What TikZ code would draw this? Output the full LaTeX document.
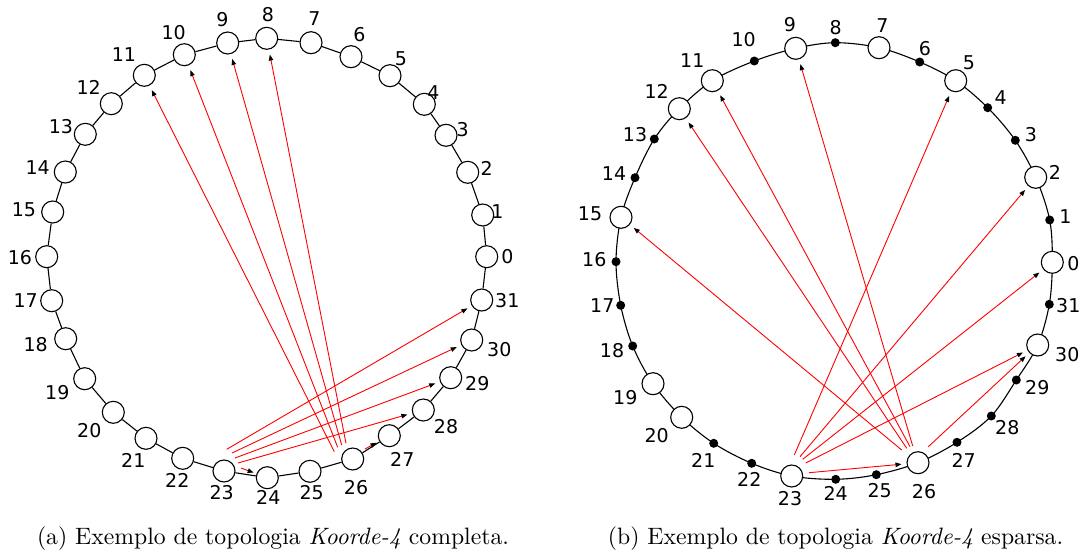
\documentclass[tikz,border=0pt]{standalone}
\usepackage{fontspec}
\newfontfamily\labelfont{DejaVu Sans}
\newfontfamily\capfont{lmroman10}[Extension=.otf,UprightFont=*-regular,ItalicFont=*-italic]
\usetikzlibrary{arrows.meta,calc,backgrounds}

\begin{document}
\begin{tikzpicture}[x=1pt,y=-1pt,
  peer/.style={circle,draw,fill=white,line width=1.1pt,minimum size=22pt,inner sep=0pt},
  ghost/.style={circle,fill=black,minimum size=9pt,inner sep=0pt},
  ring/.style={line width=1.1pt},
  idx/.style={font=\labelfont\fontsize{19}{19}\selectfont,inner sep=0pt},
  ptr/.style={draw=red,line width=0.9pt,
    -{Triangle[color=black,length=6pt,width=4.5pt]},shorten >=5pt},
  captxt/.style={font=\capfont\fontsize{23.7}{28}\selectfont,inner sep=0pt}]

\useasboundingbox (0,0) rectangle (1083,554);

% ---------- (a) complete Koorde-4 ring ----------
\foreach \k/\x/\y/\a/\b in {
  0/486.7/256.7/507.3/256.7, 1/482.7/215/497.3/212, 2/467.7/172.3/486.7/168.3,
  3/446/135.3/462.7/129.3, 4/424.3/104.3/433.3/92.7, 5/390/75.7/401/58.3,
  6/351/56.7/359.3/34.3, 7/311/42.7/314.3/19, 8/266.7/38.3/268/15,
  9/227.7/43/222.3/20, 10/184.3/54.7/173.7/32.3, 11/144.3/75.3/124/55,
  12/111.3/103.7/88.7/87.3, 13/85.3/134.3/61/126.7, 14/65.3/172/37.7/167.3,
  15/52.7/212/24/209.3, 16/46.7/256.7/20/257.3, 17/51.7/300.7/25.7/300.7,
  18/65.7/338.7/35.7/345, 19/84.7/378.7/57.3/392.7, 20/113.3/412.3/89.3/431,
  21/146/438.3/133.3/460.7, 22/182.7/458.3/177.3/480.7, 23/224/471/221.7/492.7,
  24/267.3/477.7/268.3/497.7, 25/310/471.3/311.7/492.7, 26/352.7/459/356/487.3,
  27/389.3/435.7/402.3/459, 28/423.3/410/446/426.7, 29/450.7/377.7/477.3/384,
  30/471.7/340/499.3/349.3, 31/481.7/300/507.3/301}
{
  \node[peer] (L\k) at (\x,\y) {};
  \node[idx] (LL\k) at (\a,\b) {\k};
}

\foreach \k in {0,...,31}{
  \pgfmathtruncatemacro\n{mod(\k+1,32)}
  \draw[ring] (L\k) -- (L\n);
}

% fan-out points next to nodes 23 and 26
\coordinate (a23x31) at ($(L23)+(2.7,-21.7)$);
\coordinate (a23x30) at ($(L23)+(8,-18)$);
\coordinate (a23x29) at ($(L23)+(11,-13)$);
\coordinate (a23x28) at ($(L23)+(14,-8)$);
\coordinate (a23x24) at ($(L23)+(17,-3)$);
\coordinate (a26x11) at ($(L26)+(-18.4,-7.3)$);
\coordinate (a26x10) at ($(L26)+(-15,-11.7)$);
\coordinate (a26x9)  at ($(L26)+(-11,-14)$);
\coordinate (a26x8)  at ($(L26)+(-6.7,-15.7)$);
\coordinate (a26x27) at ($(L26)+(12.3,-10)$);

\draw[ptr] (a23x31) -- (L31);
\draw[ptr] (a23x30) -- (L30);
\draw[ptr] (a23x29) -- (L29);
\draw[ptr] (a23x28) -- (L28);
\draw[ptr,shorten >=3pt] (a23x24) -- (L24);
\draw[ptr] (a26x11) -- (L11);
\draw[ptr] (a26x10) -- (L10);
\draw[ptr] (a26x9)  -- (L9);
\draw[ptr] (a26x8)  -- (L8);
\draw[ptr,shorten >=3pt] (a26x27) -- (L27);

% ---------- (b) sparse Koorde-4 ring ----------
\foreach \k/\x/\y/\a/\b/\t in {
  0/1052.3/262.3/1073.3/263.3/peer, 1/1049.7/220/1065.3/216.7/ghost,
  2/1035.7/177.3/1055/172.7/peer, 3/1015.3/140.3/1031/135/ghost,
  4/987.7/107.7/1000.7/97.3/ghost, 5/955.7/80.7/969/62.3/peer,
  6/919.7/62/925/49/ghost, 7/879/47.7/882.3/26/peer,
  8/835.3/42.7/835.7/27.3/ghost, 9/795.7/48.3/790/25/peer,
  10/754.3/61/743.7/39.3/ghost, 11/712.3/80.7/692.3/61/peer,
  12/679.3/108.7/656.7/91.7/peer, 13/654.3/139/635/135/ghost,
  14/635/177.7/614/173.3/ghost, 15/621/217.3/590/214/peer,
  16/616/261.7/594.3/260/ghost, 17/620.7/305.3/602.3/306/ghost,
  18/632.7/346/612/350.7/ghost, 19/653/383.7/625.3/397.7/peer,
  20/681.7/417.3/656.7/435.7/peer, 21/713.7/443.3/703.3/460/ghost,
  22/751.7/463.3/749.3/479.3/ghost, 23/791.7/476/790/498.3/peer,
  24/835.7/479.3/835.7/493.3/ghost, 25/876.3/474.7/879.7/490.7/ghost,
  26/918/462.7/924/491.7/peer, 27/957/442.3/963.7/460/ghost,
  28/991.3/416/1007.3/427.3/ghost, 29/1016.3/380/1037.3/387.3/ghost,
  30/1037.7/345/1067.3/355/peer, 31/1049.3/304.3/1068.3/306/ghost}
{
  \node[\t] (R\k) at (\x,\y) {};
  \node[idx] (RL\k) at (\a,\b) {\k};
}

\begin{scope}[on background layer]
  \draw[ring] plot[smooth cycle,tension=0.55] coordinates {
    (R0) (R1) (R2) (R3) (R4) (R5) (R6) (R7) (R8) (R9) (R10) (R11) (R12)
    (R13) (R14) (R15) (R16) (R17) (R18) (R19) (R20) (R21) (R22) (R23)
    (R24) (R25) (R26) (R27) (R28) (R29) (R30) (R31)};
\end{scope}

\coordinate (b23x5)  at ($(R23)+(2.6,-21)$);
\coordinate (b23x2)  at ($(R23)+(8.3,-19.3)$);
\coordinate (b23x0)  at ($(R23)+(11,-16.7)$);
\coordinate (b23x30) at ($(R23)+(14,-13)$);
\coordinate (b23x26) at ($(R23)+(17.3,-3.3)$);
\coordinate (b26x15) at ($(R26)+(-16.3,-12.7)$);
\coordinate (b26x12) at ($(R26)+(-11.3,-14.4)$);
\coordinate (b26x11) at ($(R26)+(-8,-16)$);
\coordinate (b26x9)  at ($(R26)+(-5.3,-16.7)$);
\coordinate (b26x30) at ($(R26)+(10.3,-16)$);

\draw[ptr] (b23x5)  -- (R5);
\draw[ptr] (b23x2)  -- (R2);
\draw[ptr] (b23x0)  -- (R0);
\draw[ptr] (b23x30) -- (R30);
\draw[ptr] (b23x26) -- (R26);
\draw[ptr] (b26x15) -- (R15);
\draw[ptr] (b26x12) -- (R12);
\draw[ptr] (b26x11) -- (R11);
\draw[ptr] (b26x9)  -- (R9);
\draw[ptr] (b26x30) -- (R30);

% ---------- captions ----------
\node[captxt,anchor=base] (capA) at (273,544.5)
  {(a) Exemplo de topologia \textit{Koorde-4} completa.};
\node[captxt,anchor=base] (capB) at (835.5,544.5)
  {(b) Exemplo de topologia \textit{Koorde-4} esparsa.};
\end{tikzpicture}
\end{document}
